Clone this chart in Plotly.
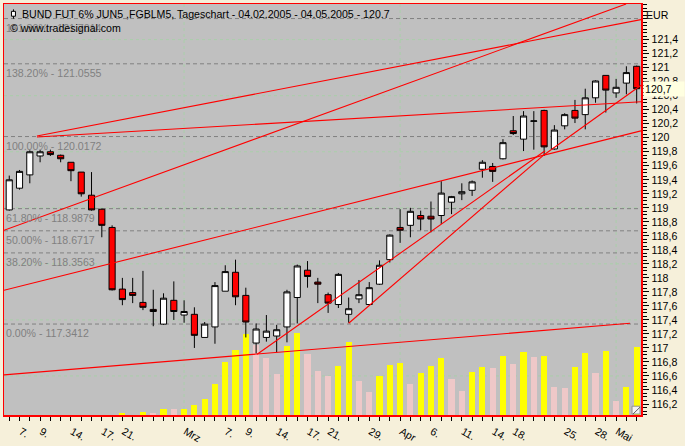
import plotly.graph_objects as go

# ---------------- data ----------------
# trading days 04.02.2005 .. 04.05.2005 (index positions)
n_days = 62
opens = [118.97, 119.28, 119.47, 119.74, 119.80, 119.75, 119.65, 119.51, 119.18, 118.98,
         118.72, 117.84, 117.79, 117.65, 117.55, 117.34, 117.68, 117.47, 117.48, 117.15,
         117.30, 117.81, 118.08, 117.75, 117.07, 117.15, 117.17, 117.30, 117.72, 118.11,
         117.94, 117.76, 117.62, 117.48, 117.70, 117.62, 117.91, 118.26, 118.72, 118.75,
         118.89, 118.88, 118.89, 119.08, 119.20, 119.25, 119.55, 119.59, 119.70, 120.10,
         119.98, 120.235, 120.39, 119.84, 120.17, 120.39, 120.33, 120.57, 120.89, 120.64,
         120.78, 121.02]
highs = [119.46, 119.54, 119.82, 119.83, 119.83, 119.76, 119.65, 119.51, 119.51, 118.99,
         118.75, 118.00, 118.00, 118.10, 117.83, 117.78, 117.95, 117.68, 117.58, 117.37,
         117.94, 118.18, 118.26, 117.86, 117.35, 117.47, 117.33, 117.83, 118.19, 118.24,
         118.00, 117.79, 118.07, 117.72, 117.97, 117.94, 118.25, 118.62, 118.98, 119.00,
         118.96, 119.09, 119.38, 119.17, 119.35, 119.39, 119.68, 119.64, 119.98, 120.31,
         120.38, 120.38, 120.40, 120.18, 120.35, 120.54, 120.70, 120.82, 120.89, 120.84,
         121.02, 121.03]
lows = [118.96, 119.26, 119.35, 119.65, 119.74, 119.65, 119.38, 119.16, 118.96, 118.58,
        117.82, 117.61, 117.64, 117.54, 117.31, 117.33, 117.40, 117.36, 117.00, 117.15,
        117.06, 117.81, 117.61, 117.15, 116.92, 117.09, 116.94, 117.08, 117.35, 117.86,
        117.64, 117.50, 117.57, 117.36, 117.64, 117.62, 117.90, 118.22, 118.50, 118.58,
        118.68, 118.65, 118.77, 118.91, 119.11, 119.17, 119.43, 119.37, 119.69, 120.04,
        119.81, 119.83, 119.74, 119.83, 120.12, 120.21, 120.12, 120.50, 120.36, 120.57,
        120.62, 120.49]
closes = [119.40, 119.52, 119.80, 119.80, 119.76, 119.70, 119.53, 119.20, 118.97, 118.75,
          117.83, 117.69, 117.75, 117.58, 117.52, 117.71, 117.52, 117.52, 117.18, 117.34,
          117.89, 118.09, 117.73, 117.37, 117.27, 117.24, 117.26, 117.80, 118.17, 118.02,
          117.91, 117.64, 118.05, 117.56, 117.76, 117.86, 118.18, 118.61, 118.68, 118.95,
          118.84, 118.84, 119.21, 119.16, 119.23, 119.37, 119.65, 119.52, 119.93, 120.06,
          120.31, 120.24, 119.87, 120.11, 120.33, 120.28, 120.57, 120.81, 120.68, 120.72,
          120.93, 120.70]
volume = [0, 0, 0, 0, 0, 0, 0, 0, 0, 0,
          0, 20000, 0, 30000, 20000, 62000, 60000, 63000, 100000, 160000,
          313000, 540000, 660000, 827000, 720000, 580000, 420000, 710000, 840000, 627000,
          447000, 400000, 500000, 750000, 350000, 230000, 400000, 510000, 530000, 320000,
          430000, 500000, 580000, 370000, 250000, 440000, 490000, 480000, 600000, 520000,
          640000, 590000, 600000, 290000, 280000, 490000, 630000, 430000, 650000, 140000,
          290000, 690000]

tick_pos = [1, 3, 6, 9, 11, 17, 21, 23, 26, 29, 31, 35, 38, 41, 44, 47, 49, 54, 57, 59]
tick_txt = ["7.", "9.", "14.", "17.", "21.", "Mrz", "7.", "9.", "14.", "17.", "21.",
            "29.", "Apr", "6.", "11.", "14.", "18.", "25.", "28.", "Mai"]
month_pos = [17, 38, 59]

fib_pct = ["0.00%", "38.20%", "50.00%", "61.80%", "100.00%", "138.20%", "161.80%"]
fib_val = [117.3412, 118.3563, 118.6717, 118.9879, 120.0172, 121.0555, 121.7014]

# drawn trend lines: (x0, price0, x1, price1)
trend_x0 = [-0.51, -0.51, -0.51, 2.69, 2.69, 24.1, 33.0, 51.9]
trend_p0 = [116.616, 117.823, 118.680, 120.024, 120.010, 116.909, 117.352, 119.746]
trend_x1 = [60.36, 61.42, 59.97, 61.42, 61.42, 52.1, 51.9, 61.42]
trend_p1 = [117.352, 120.098, 121.909, 121.686, 120.513, 119.814, 119.746, 120.75]

last_price = 120.7
title = "BUND FUT 6% JUN5 ,FGBLM5, Tageschart - 04.02.2005 - 04.05.2005 - 120.7"

# ---------------- styling ----------------
FONT = "Liberation Sans, Arial, sans-serif"
FS = 10.6
W, H = 685, 446
L, R, T, B = 2, 44, 2, 24
X0, X1 = 2, 641
Y0, Y1 = 2, 422


def px_x(px):
    return (px - X0) / (X1 - X0)


def px_y(py):
    return (Y1 - py) / (Y1 - Y0)


idx = list(range(n_days))
vol_colors = ["#FFFF00" if i == 0 or volume[i] >= volume[i - 1] else "#EEC8C8"
              for i in range(n_days)]

fig = go.Figure()
fig.add_trace(go.Bar(x=idx, y=volume, width=0.6, marker=dict(color=vol_colors, line=dict(width=0)),
                     xaxis="x", yaxis="y", showlegend=False, hoverinfo="skip"))
for a, b, c, d in zip(trend_x0, trend_p0, trend_x1, trend_p1):
    fig.add_trace(go.Scatter(x=[a, c], y=[b, d], mode="lines", line=dict(color="#FF0000", width=1.1),
                             yaxis="y2", showlegend=False, hoverinfo="skip"))
fig.add_trace(go.Candlestick(x=idx, open=opens, high=highs, low=lows, close=closes, yaxis="y2",
                             whiskerwidth=0, showlegend=False,
                             increasing=dict(fillcolor="#FFFFFF", line=dict(color="#000000", width=1)),
                             decreasing=dict(fillcolor="#FF0000", line=dict(color="#000000", width=1))))

shapes = []
# light green grid
for m in month_pos:
    shapes.append(dict(type="line", xref="x", yref="paper", x0=m, x1=m, y0=0, y1=1, layer="below",
                       line=dict(color="#A9CFA9", width=1, dash="dot")))
g = 116.6
while g < 121.9:
    shapes.append(dict(type="line", xref="paper", yref="y2", x0=0, x1=1, y0=g, y1=g, layer="below",
                       line=dict(color="#A9CFA9", width=1, dash="dot")))
    g += 0.8
# fibonacci levels
for v in fib_val:
    shapes.append(dict(type="line", xref="paper", yref="y2", x0=0, x1=1, y0=v, y1=v, layer="below",
                       line=dict(color="#808080", width=1, dash="4px,3px")))
# small candle icon before title
shapes.append(dict(type="line", xref="paper", yref="paper", x0=px_x(11.5), x1=px_x(11.5),
                   y0=px_y(7.5), y1=px_y(17), line=dict(color="black", width=1)))
shapes.append(dict(type="rect", xref="paper", yref="paper", x0=px_x(9.5), x1=px_x(13.5),
                   y0=px_y(9.5), y1=px_y(14.5), fillcolor="white", line=dict(color="black", width=1)))
# resize grip in the lower right corner
shapes.append(dict(type="rect", xref="paper", yref="paper", x0=px_x(632), x1=px_x(640),
                   y0=px_y(421), y1=px_y(413), fillcolor="#F4F4F4", line=dict(color="#909090", width=1)))
shapes.append(dict(type="line", xref="paper", yref="paper", x0=px_x(633), x1=px_x(640),
                   y0=px_y(421), y1=px_y(414), line=dict(color="#606060", width=1)))

ann = []
for t, v in zip(fib_pct, fib_val):
    ann.append(dict(xref="paper", yref="y2", x=0, y=v, xanchor="left", yanchor="top", xshift=0, yshift=-1,
                    text=f"{t} - {v:.4f}", showarrow=False, font=dict(family=FONT, size=FS, color="#808080")))
ann.append(dict(xref="paper", yref="paper", x=px_x(18), y=px_y(12), xanchor="left", yanchor="middle",
                text=title, showarrow=False, font=dict(family=FONT, size=FS, color="black")))
ann.append(dict(xref="paper", yref="paper", x=px_x(6), y=px_y(27), xanchor="left", yanchor="middle",
                text="© www.tradesignal.com", showarrow=False, font=dict(family=FONT, size=FS, color="black")))
ann.append(dict(xref="paper", yref="paper", x=1, y=px_y(13), xanchor="left", yanchor="middle", xshift=3,
                text="EUR", showarrow=False, font=dict(family=FONT, size=FS, color="black")))
ann.append(dict(xref="paper", yref="y2", x=1, y=last_price, xanchor="left", yanchor="middle", xshift=2,
                text="120,7", showarrow=False, align="left", width=38, bgcolor="#FFFFE1", borderpad=1,
                font=dict(family=FONT, size=FS, color="black")))

yvals = [round(116.2 + 0.2 * k, 1) for k in range(27)]
ytext = [(f"{v:.1f}".rstrip("0").rstrip(".")).replace(".", ",") for v in yvals]

xtext = [""] * n_days
for p, t in zip(tick_pos, tick_txt):
    xtext[p] = t

fig.update_layout(
    width=W, height=H, margin=dict(l=L, r=R, t=T, b=B),
    paper_bgcolor="#F6F0DA", plot_bgcolor="#C0C0C0",
    showlegend=False, boxgap=0.3, boxgroupgap=0.15, bargap=0,
    font=dict(family=FONT, size=FS, color="black"),
    xaxis=dict(range=[-0.51, 61.42], tickmode="array", tickvals=idx, ticktext=xtext,
               ticks="outside", ticklen=4, tickcolor="black", ticklabelposition="outside right",
               ticklabelstandoff=5,
               showgrid=False, zeroline=False, showline=True, linecolor="#FF0000", linewidth=1.5,
               mirror=True, rangeslider=dict(visible=False), fixedrange=True,
               tickfont=dict(family=FONT, size=FS, color="black")),
    yaxis=dict(range=[0, 4200000], visible=False, showgrid=False, zeroline=False, fixedrange=True),
    yaxis2=dict(overlaying="y", side="right", range=[116.043, 121.909], tickmode="array",
                tickvals=yvals, ticktext=ytext, ticks="outside", ticklen=6, tickcolor="black",
                ticklabelstandoff=1,
                minor=dict(dtick=0.05, ticks="outside", ticklen=4, tickcolor="black", showgrid=False),
                showgrid=False, zeroline=False, showline=True, linecolor="#FF0000", linewidth=1.5,
                mirror=True, fixedrange=True, tickfont=dict(family=FONT, size=FS, color="black")),
    shapes=shapes, annotations=ann,
)

fig.write_html("out.html", config={"displayModeBar": False, "staticPlot": True},
               post_script="document.body.style.margin='0';document.body.style.overflow='hidden';")
